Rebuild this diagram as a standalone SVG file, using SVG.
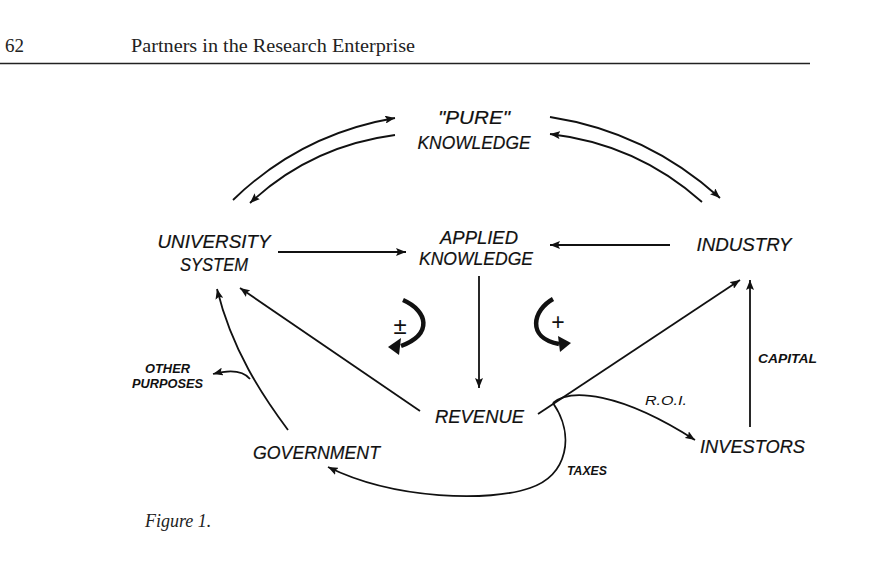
<svg xmlns="http://www.w3.org/2000/svg" width="873" height="570" viewBox="0 0 873 570">
<style>
.bg{fill:#fff}
.hdr{font-family:"Liberation Serif","Times New Roman",serif;font-size:19px;fill:#222}
.cap{font-family:"Liberation Serif","Times New Roman",serif;font-size:18px;font-style:italic;fill:#222}
.lbl{font-family:"Liberation Sans",Arial,sans-serif;font-size:19px;font-style:italic;fill:#111;stroke:#111;stroke-width:0.2;text-anchor:middle}
.sm{font-family:"Liberation Sans",Arial,sans-serif;font-size:13px;font-style:italic;font-weight:bold;fill:#111}
.roi{font-family:"Liberation Sans",Arial,sans-serif;font-size:13px;font-style:italic;fill:#111}
.sign{font-family:"Liberation Sans",Arial,sans-serif;fill:#111;text-anchor:middle}
.ln{fill:none;stroke:#111;stroke-width:1.8}
.thick{fill:none;stroke:#111;stroke-width:4.5}
.head{fill:#111}
</style>
<defs>
<marker id="arr" markerUnits="userSpaceOnUse" markerWidth="11" markerHeight="8" refX="10" refY="4" orient="auto">
<path d="M0,0 L10,4 L0,8 L2,4 z" fill="#111"/>
</marker>
</defs>
<rect class="bg" x="0" y="0" width="873" height="570"/>

<g id="header">
<text class="hdr" x="5" y="52">62</text>
<text class="hdr" x="131" y="52" textLength="284" lengthAdjust="spacingAndGlyphs">Partners in the Research Enterprise</text>
<line x1="0" y1="63.5" x2="810" y2="63.5" stroke="#222" stroke-width="1.5"/>
</g>

<g id="connectors">
<path class="ln" d="M233,200 Q301,134 395,118" marker-end="url(#arr)"/>
<path class="ln" d="M395,135 Q311,146 250,203" marker-end="url(#arr)"/>
<path class="ln" d="M550,117 Q647,132 720,198" marker-end="url(#arr)"/>
<path class="ln" d="M702,202 Q637,144 550,134" marker-end="url(#arr)"/>
<path class="ln" d="M278,252 L406,252" marker-end="url(#arr)"/>
<path class="ln" d="M670,245 L550,245" marker-end="url(#arr)"/>
<path class="ln" d="M479,276 L479,388" marker-end="url(#arr)"/>
<path class="ln" d="M420,411 L240,288" marker-end="url(#arr)"/>
<path class="ln" d="M538,414 L740,280" marker-end="url(#arr)"/>
<path class="ln" d="M750,427 L750,280" marker-end="url(#arr)"/>
<path class="ln" d="M288,430 C262,395 232,350 217,289" marker-end="url(#arr)"/>
<path class="ln" d="M250,379 Q240,367 213,374" marker-end="url(#arr)"/>
<path class="ln" d="M553,403 C575,435 568,475 530,488 C490,502 395,500 328,467" marker-end="url(#arr)"/>
<path class="ln" d="M553,403 C570,388 620,392 695,440" marker-end="url(#arr)"/>
<text class="sm" x="758" y="363" textLength="59" lengthAdjust="spacingAndGlyphs">CAPITAL</text>
<text class="sm" x="567" y="475" textLength="40" lengthAdjust="spacingAndGlyphs">TAXES</text>
<text class="roi" x="645" y="405" textLength="42" lengthAdjust="spacingAndGlyphs">R.O.I.</text>
</g>

<g id="feedback-minus-plus">
<path class="thick" d="M403,300 C428,311 433,334 401,346"/>
<path class="head" d="M388,347 L401,338 L399,355 z"/>
<text class="sign" x="400" y="334" font-size="24">±</text>
</g>
<g id="feedback-plus">
<path class="thick" d="M553,299 C533,310 526,338 559,344"/>
<path class="head" d="M571,343 L558,336 L560,352 z"/>
<text class="sign" x="558" y="330" font-size="23">+</text>
</g>

<g id="pure-knowledge">
<text class="lbl" x="474" y="124" textLength="72" lengthAdjust="spacingAndGlyphs">"PURE"</text>
<text class="lbl" x="474" y="149" textLength="113" lengthAdjust="spacingAndGlyphs">KNOWLEDGE</text>
</g>
<g id="university-system">
<text class="lbl" x="214" y="248" textLength="113" lengthAdjust="spacingAndGlyphs">UNIVERSITY</text>
<text class="lbl" x="214" y="271" textLength="68" lengthAdjust="spacingAndGlyphs">SYSTEM</text>
</g>
<g id="applied-knowledge">
<text class="lbl" x="479" y="244" textLength="78" lengthAdjust="spacingAndGlyphs">APPLIED</text>
<text class="lbl" x="476" y="265" textLength="114" lengthAdjust="spacingAndGlyphs">KNOWLEDGE</text>
</g>
<g id="industry">
<text class="lbl" x="744" y="251" textLength="95" lengthAdjust="spacingAndGlyphs">INDUSTRY</text>
</g>
<g id="revenue">
<text class="lbl" x="479.5" y="423" textLength="89" lengthAdjust="spacingAndGlyphs">REVENUE</text>
</g>
<g id="government">
<text class="lbl" x="316.5" y="459" textLength="127" lengthAdjust="spacingAndGlyphs">GOVERNMENT</text>
</g>
<g id="investors">
<text class="lbl" x="752.5" y="453" textLength="105" lengthAdjust="spacingAndGlyphs">INVESTORS</text>
</g>
<g id="other-purposes">
<text class="sm" x="145" y="373" textLength="45" lengthAdjust="spacingAndGlyphs">OTHER</text>
<text class="sm" x="132" y="388" textLength="71" lengthAdjust="spacingAndGlyphs">PURPOSES</text>
</g>

<text class="cap" x="145" y="527">Figure 1.</text>
</svg>
